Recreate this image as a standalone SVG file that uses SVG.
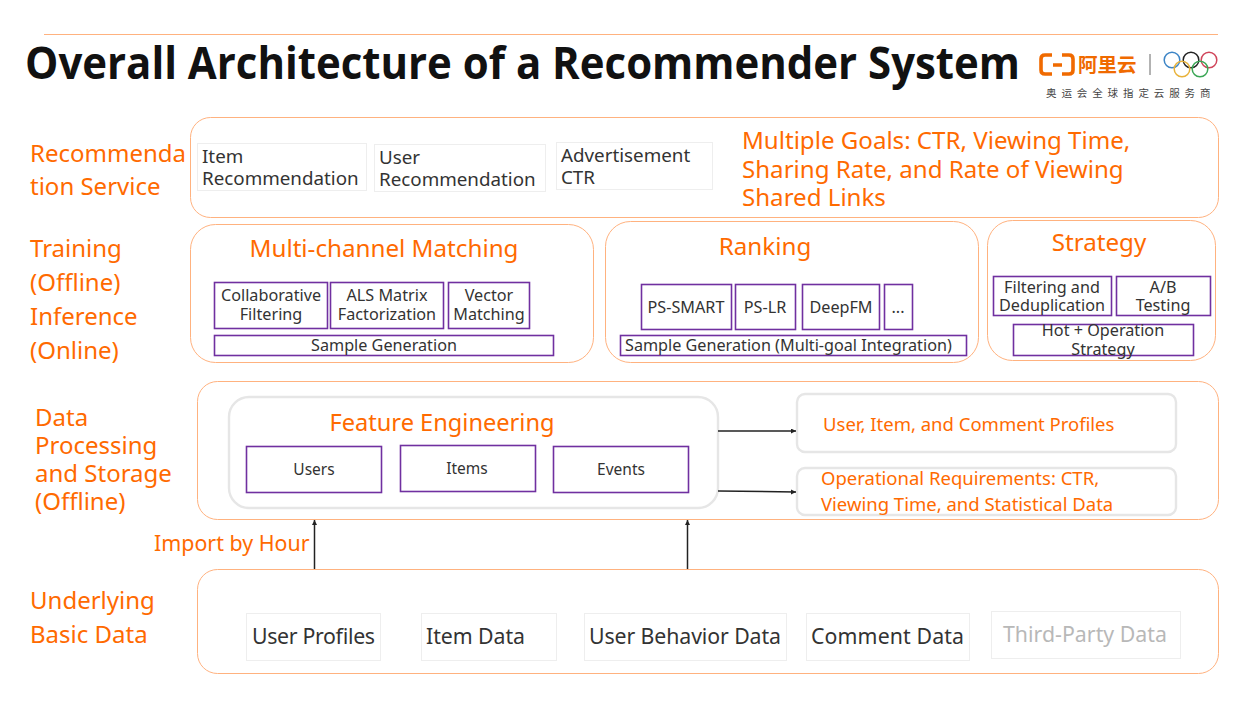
<svg xmlns="http://www.w3.org/2000/svg" width="1257" height="707" viewBox="0 0 1257 707">
<defs>
<marker id="ah" markerWidth="6" markerHeight="6" refX="5" refY="2.500" orient="auto" markerUnits="userSpaceOnUse"><path d="M0 0L5 2.500L0 5Z" fill="#222"/></marker>
</defs>
<style>
text{font-family:"Noto Sans","Open Sans","Noto Sans CJK SC",sans-serif}
.o{fill:#ff6a00}
.k{fill:#333}
.l{font-size:24px}
.h{font-size:24.200px;text-anchor:middle}
.m{font-size:24.100px}
.r{font-size:18.800px}
.p{fill:#fff;stroke:#ffb27f;stroke-width:1}
.b{fill:#fff;stroke:#7030a0;stroke-width:1.600}
.g{fill:#fff;stroke:#e6e6e6;stroke-width:2.400}
.w{fill:#fff;stroke:#eeeeee;stroke-width:1}
.t{font-size:16.200px;text-anchor:middle}
.u{font-size:15.500px;text-anchor:middle}
.s{font-size:21.300px}
.f{font-size:18.500px}
.c{stroke:#222;stroke-width:1.500;fill:none;marker-end:url(#ah)}
</style>
<rect width="1257" height="707" fill="#fff"/>
<g id="title">
<line x1="44" y1="34.500" x2="1218" y2="34.500" stroke="#ffb27f" stroke-width="1"/>
<text x="25" y="79" font-size="44" font-weight="700" fill="#111" textLength="995" lengthAdjust="spacingAndGlyphs" style="font-family:'Open Sans','Noto Sans',sans-serif">Overall Architecture of a Recommender System</text>
</g>
<g id="logo">
<path d="M1052 55H1045Q1041 55 1041 59V70Q1041 74 1045 74H1052M1062 55H1069Q1073 55 1073 59V70Q1073 74 1069 74H1062M1053 65H1062" fill="none" stroke="#f06a00" stroke-width="3.600"/>
<text x="1078" y="72" font-size="19.500" font-weight="700" fill="#f06a00" style="font-family:'Noto Sans CJK SC',sans-serif">阿里云</text>
<line x1="1150" y1="54" x2="1150" y2="75" stroke="#666" stroke-width="1"/>
<g fill="none" stroke-width="1.500">
<circle cx="1172" cy="60" r="7.800" stroke="#3d85c6"/><circle cx="1191" cy="60" r="7.800" stroke="#222"/><circle cx="1209" cy="60" r="7.800" stroke="#d0455a"/><circle cx="1182" cy="69" r="7.800" stroke="#e8b23a"/><circle cx="1200" cy="69" r="7.800" stroke="#3aa655"/>
</g>
<text x="1046" y="97" font-size="10.500" fill="#444" letter-spacing="4.900" style="font-family:'Noto Sans CJK SC',sans-serif">奥运会全球指定云服务商</text>
</g>
<g id="labels">
<text class="o l" x="30" y="162">Recommenda</text><text class="o l" x="30" y="195">tion Service</text>
<text class="o l" x="30" y="257">Training</text><text class="o l" x="30" y="291">(Offline)</text><text class="o l" x="30" y="325">Inference</text><text class="o l" x="30" y="359">(Online)</text>
<text class="o l" x="35" y="426">Data</text><text class="o l" x="35" y="454">Processing</text><text class="o l" x="35" y="482">and Storage</text><text class="o l" x="35" y="510">(Offline)</text>
<text class="o l" x="30" y="609">Underlying</text><text class="o l" x="30" y="643">Basic Data</text>
<text class="o" font-size="21.400" x="154" y="551">Import by Hour</text>
</g>
<g id="service">
<rect class="p" x="190.500" y="117.500" width="1028" height="100" rx="20"/>
<rect class="w" x="197.500" y="143.500" width="169" height="47"/>
<text class="k r" x="202" y="163">Item</text><text class="k r" x="202" y="185">Recommendation</text>
<rect class="w" x="374.500" y="144.500" width="171" height="47"/>
<text class="k r" x="379" y="164">User</text><text class="k r" x="379" y="186">Recommendation</text>
<rect class="w" x="556.500" y="142.500" width="156" height="47"/>
<text class="k r" x="561" y="162">Advertisement</text><text class="k r" x="561" y="184">CTR</text>
<text class="o m" x="742" y="149">Multiple Goals: CTR, Viewing Time,</text>
<text class="o m" x="742" y="178">Sharing Rate, and Rate of Viewing</text>
<text class="o m" x="742" y="206">Shared Links</text>
</g>
<g id="matching">
<rect class="p" x="190.500" y="224.500" width="403" height="138" rx="25"/>
<text class="o h" x="384" y="257">Multi-channel Matching</text>
<rect class="b" x="214.500" y="282.500" width="113" height="46"/><text class="k t" x="271" y="301">Collaborative</text><text class="k t" x="271" y="320">Filtering</text>
<rect class="b" x="330.500" y="282.500" width="113" height="46"/><text class="k t" x="387" y="301">ALS Matrix</text><text class="k t" x="387" y="320">Factorization</text>
<rect class="b" x="448.500" y="282.500" width="81" height="46"/><text class="k t" x="489" y="301">Vector</text><text class="k t" x="489" y="320">Matching</text>
<rect class="b" x="214.500" y="335.500" width="339" height="20"/><text class="k t" x="384" y="351">Sample Generation</text>
</g>
<g id="ranking">
<rect class="p" x="605.500" y="221.500" width="373" height="141" rx="25"/>
<text class="o h" x="765" y="255">Ranking</text>
<rect class="b" x="641.500" y="284.500" width="90" height="45"/><text class="k t" x="686" y="313">PS-SMART</text>
<rect class="b" x="735.500" y="284.500" width="60" height="45"/><text class="k t" x="765" y="313">PS-LR</text>
<rect class="b" x="802.500" y="284.500" width="77" height="45"/><text class="k t" x="841" y="313">DeepFM</text>
<rect class="b" x="884.500" y="284.500" width="28" height="45"/><text class="k t" x="898" y="313">...</text>
<rect class="b" x="620.500" y="335.500" width="346" height="20"/><text class="k" font-size="16.200" x="625" y="351">Sample Generation (Multi-goal Integration)</text>
</g>
<g id="strategy">
<rect class="p" x="987.500" y="220.500" width="228" height="140" rx="25"/>
<text class="o h" x="1099" y="251">Strategy</text>
<rect class="b" x="993.500" y="276.500" width="118" height="39"/><text class="k t" x="1052" y="293">Filtering and</text><text class="k t" x="1052" y="311">Deduplication</text>
<rect class="b" x="1116.500" y="276.500" width="94" height="39"/><text class="k t" x="1163" y="293">A/B</text><text class="k t" x="1163" y="311">Testing</text>
<rect class="b" x="1013.500" y="324.500" width="180" height="31"/><text class="k t" x="1103" y="336">Hot + Operation</text><text class="k t" x="1103" y="355">Strategy</text>
</g>
<g id="processing">
<rect class="p" x="197.500" y="381.500" width="1021" height="138" rx="20"/>
<rect class="g" x="229" y="397" width="489" height="111" rx="20"/>
<text class="o" font-size="23.600" text-anchor="middle" x="442" y="431">Feature Engineering</text>
<rect class="b" x="246.500" y="446.500" width="135" height="46"/><text class="k u" x="314" y="475">Users</text>
<rect class="b" x="400.500" y="445.500" width="135" height="46"/><text class="k u" x="467" y="474">Items</text>
<rect class="b" x="553.500" y="446.500" width="135" height="46"/><text class="k u" x="621" y="475">Events</text>
<rect class="g" x="797" y="394" width="379" height="58" rx="8"/>
<text class="o f" x="823" y="431">User, Item, and Comment Profiles</text>
<rect class="g" x="797" y="468" width="379" height="47" rx="8"/>
<text class="o f" x="821" y="485">Operational Requirements: CTR,</text>
<text class="o f" x="821" y="511">Viewing Time, and Statistical Data</text>
</g>
<g id="basic">
<rect class="p" x="197.500" y="569.500" width="1021" height="104" rx="20"/>
<rect class="w" x="246.500" y="613.500" width="134" height="47"/><text class="k s" x="252" y="644" textLength="123">User Profiles</text>
<rect class="w" x="421.500" y="613.500" width="135" height="47"/><text class="k s" x="426" y="644" textLength="99">Item Data</text>
<rect class="w" x="584.500" y="613.500" width="202" height="47"/><text class="k s" x="589" y="644" textLength="192">User Behavior Data</text>
<rect class="w" x="806.500" y="613.500" width="163" height="47"/><text class="k s" x="811" y="644" textLength="153">Comment Data</text>
<rect class="w" x="991.500" y="611.500" width="189" height="47"/><text class="s" fill="#b8b8b8" x="1003" y="642" textLength="164">Third-Party Data</text>
</g>
<g id="connectors">
<line class="c" x1="718" y1="431" x2="796" y2="431"/>
<line class="c" x1="718" y1="491" x2="796" y2="492"/>
<line class="c" x1="314.500" y1="569" x2="314.500" y2="520"/>
<line class="c" x1="687.500" y1="569" x2="687.500" y2="520"/>
</g>
</svg>
